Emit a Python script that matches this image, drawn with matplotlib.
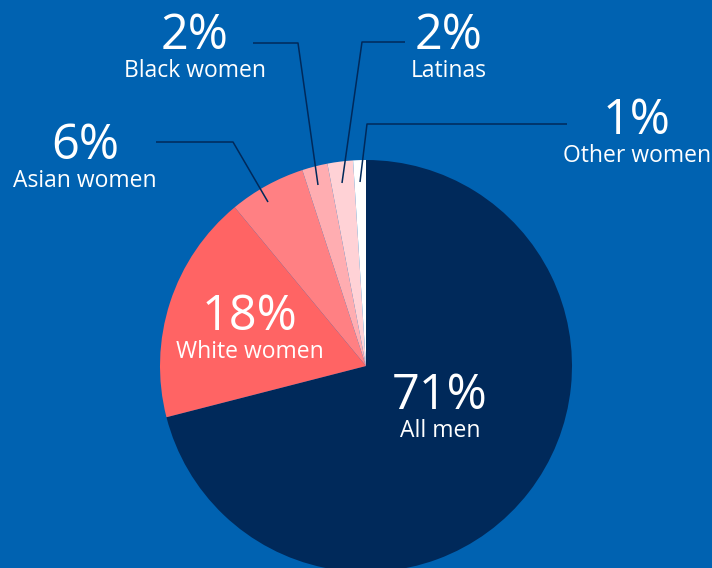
import matplotlib
matplotlib.use("Agg")
import matplotlib.pyplot as plt

# share of workers, by group
groups = ["All men", "White women", "Asian women", "Black women", "Latinas", "Other women"]
shares = [71, 18, 6, 2, 2, 1]
pct_labels = ["71%", "18%", "6%", "2%", "2%", "1%"]

bg = "#0062B1"
navy = "#00295A"
colors = [navy, "#FF6464", "#FF8083", "#FFADB1", "#FFD2D6", "#FFFFFF"]

W, H = 712, 568
fig = plt.figure(figsize=(W / 100, H / 100), dpi=100, facecolor=bg)
ax = fig.add_axes([0, 0, 1, 1])
ax.set_facecolor(bg)

cx, cy, r = 366, H - 366, 206
ax.pie(shares, colors=colors, startangle=90, counterclock=False,
       center=(cx, cy), radius=r, frame=True,
       wedgeprops=dict(linewidth=0))
ax.set_xlim(0, W)
ax.set_ylim(0, H)
ax.set_aspect("equal")
ax.axis("off")

font = "Open Sans"

def label(x, y, pct, name, big=35, small=16.5):
    ax.text(x, H - y, pct, ha="center", va="center", color="white",
            fontsize=big, family=font)
    ax.text(x, H - y - 35, name, ha="center", va="center", color="white",
            fontsize=small, family=font)

# outside labels with leader lines
leaders = [
    [(156, 142), (233, 142), (268, 202)],   # Asian
    [(253, 43), (298, 43), (318, 185)],     # Black
    [(405, 42), (362, 42), (342, 183)],     # Latinas
    [(567, 124), (367, 124), (360, 182)],   # Other
]
for pts in leaders:
    xs = [p[0] for p in pts]
    ys = [H - p[1] for p in pts]
    ax.plot(xs, ys, color=navy, lw=1.1, solid_capstyle="butt")

label(85, 146, pct_labels[2], groups[2])
label(195, 36, pct_labels[3], groups[3])
label(449, 36, pct_labels[4], groups[4])
label(637, 121, pct_labels[5], groups[5])
label(250, 317, pct_labels[1], groups[1])
label(440, 396, pct_labels[0], groups[0])

fig.savefig("out.png", dpi=100, facecolor=bg)
